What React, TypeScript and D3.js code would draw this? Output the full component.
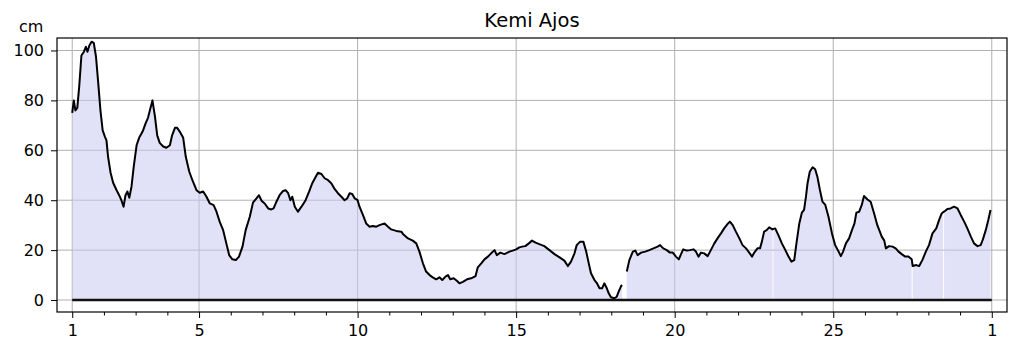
import React, { useRef, useEffect } from "react";
import { select, scaleLinear, line, area, axisBottom, axisLeft } from "d3";

const title = "Kemi Ajos";
const unitLabel = "cm";

// time in days of the month (fractional), water level in cm; null = missing reading
const days = [
  1.0, 1.05, 1.1, 1.16, 1.22, 1.29, 1.37, 1.43, 1.48, 1.54, 1.61, 1.68, 1.75, 1.82, 1.89, 1.96,
  2.03, 2.08, 2.13, 2.21, 2.29, 2.4, 2.48, 2.55, 2.62, 2.68, 2.74, 2.8, 2.87, 2.94,
  3.03, 3.11, 3.22, 3.32, 3.39, 3.45, 3.53, 3.61, 3.68, 3.76, 3.87, 3.97,
  4.08, 4.15, 4.24, 4.31, 4.39, 4.5, 4.58, 4.69, 4.79, 4.92,
  5.02, 5.13, 5.23, 5.34, 5.46, 5.55, 5.65, 5.76, 5.86, 5.95,
  6.05, 6.16, 6.26, 6.37, 6.47, 6.6, 6.7, 6.81, 6.89, 6.97,
  7.07, 7.18, 7.28, 7.35, 7.44, 7.54, 7.65, 7.73, 7.81, 7.88, 7.94,
  8.02, 8.12, 8.23, 8.36, 8.47, 8.57, 8.68, 8.75, 8.86, 8.96,
  9.07, 9.17, 9.28, 9.38, 9.49, 9.59, 9.67, 9.75, 9.83, 9.91,
  10.0, 10.06, 10.17, 10.27, 10.38, 10.48, 10.59, 10.69, 10.85, 10.96,
  11.06, 11.22, 11.38, 11.43, 11.59, 11.74, 11.85, 11.95,
  12.06, 12.16, 12.27, 12.37, 12.48, 12.58, 12.67, 12.77, 12.85, 12.92,
  13.03, 13.13, 13.21, 13.32, 13.45, 13.58, 13.72, 13.79, 13.9,
  14.0, 14.11, 14.21, 14.32, 14.39, 14.5, 14.63, 14.79, 14.89,
  15.0, 15.1, 15.19, 15.29, 15.4, 15.5, 15.61, 15.73, 15.89,
  16.05, 16.21, 16.37, 16.52, 16.63, 16.73, 16.84, 16.91,
  17.02, 17.12, 17.21, 17.29, 17.36, 17.47, 17.54, 17.63, 17.71, 17.78, 17.86, 17.92, 17.99,
  18.1, 18.17, 18.23, 18.31, 18.34, 18.4, 18.49, 18.57, 18.68, 18.76, 18.83, 18.94,
  19.07, 19.2, 19.33, 19.46, 19.54, 19.64, 19.75, 19.85, 19.94,
  20.04, 20.13, 20.2, 20.27, 20.38, 20.48, 20.59, 20.67, 20.75, 20.83, 20.93,
  21.04, 21.14, 21.25, 21.35, 21.46, 21.56, 21.67, 21.74, 21.83, 21.93,
  22.04, 22.14, 22.25, 22.35, 22.44, 22.51, 22.61, 22.69, 22.75, 22.82, 22.9, 22.98,
  23.085, 23.115, 23.17, 23.28, 23.38, 23.49, 23.59, 23.68, 23.77, 23.84, 23.93,
  24.01, 24.08, 24.14, 24.19, 24.26, 24.35, 24.43, 24.5, 24.58, 24.66, 24.75, 24.85, 24.96,
  25.06, 25.17, 25.24, 25.31, 25.4, 25.5, 25.59, 25.67, 25.73, 25.82, 25.9, 25.97,
  26.08, 26.18, 26.29, 26.39, 26.47, 26.53, 26.61, 26.66, 26.76, 26.87, 26.97,
  27.06, 27.16, 27.27, 27.37, 27.475, 27.505, 27.62, 27.71, 27.81, 27.92,
  28.02, 28.13, 28.25, 28.34, 28.42, 28.465, 28.495, 28.6, 28.7, 28.81, 28.92,
  29.02, 29.13, 29.23, 29.34, 29.44, 29.55, 29.65, 29.72, 29.81, 29.89, 29.96,
];

const levels = [
  75, 80, 76, 77, 85.5, 98, 99.5, 101.5, 99.5, 102, 103.5, 103, 97.5, 87, 76, 68,
  65.5, 64, 57.5, 51, 47, 44, 42, 40, 37.4, 42, 43.5, 41, 45.5, 53.5,
  62, 65, 67.5, 71, 73, 76, 80, 73.5, 66, 63, 61.5, 61,
  62, 66, 69, 69, 67.5, 65, 57.5, 51.5, 48, 44,
  43, 43.5, 41.5, 38.7, 38, 35.4, 31.4, 28, 22.7, 18,
  16.3, 16, 17.4, 21.4, 28, 33.4, 39, 40.7, 42, 39.8,
  38.7, 36.7, 36.3, 36.7, 39.4, 42, 43.7, 44, 42.8, 40, 41.4,
  37.4, 35.4, 37.4, 40, 43.4, 46.8, 49.4, 51, 50.5, 48.8,
  48, 46.8, 44.4, 42.8, 41.4, 40, 40.7, 42.8, 42.5, 40.7,
  40, 37.4, 34, 30.7, 29.4, 29.7, 29.4, 30, 30.7, 29.4,
  28.3, 27.7, 27.4, 26.5, 24.7, 23.8, 22.7, 19.4,
  14.7, 11.4, 10, 9.1, 8.3, 9.1, 8, 9.4, 10, 8.3,
  8.7, 7.7, 6.7, 7.3, 8.3, 8.7, 9.6, 13.1, 14.7,
  16.3, 17.4, 18.7, 20, 18, 19, 18.4, 19.4, 19.8,
  20.3, 21.1, 21.4, 21.6, 22.7, 23.8, 23, 22.4, 21.6,
  20, 18.4, 17.1, 15.8, 13.6, 15.4, 18.7, 22,
  23.4, 23.4, 19.4, 14.7, 10.7, 8, 6.9, 4.7, 4.7, 6.7, 4.7, 2.7, 1.1,
  0.7, 1.3, 3.3, 5.6, 6, null, 11.4, 16, 19.4, 19.8, 18, 19,
  19.4, 20, 20.7, 21.4, 22, 20.7, 20, 19, 19,
  17.4, 16.3, 18.4, 20.3, 19.8, 20, 20.3, 19.4, 17.4, 19, 18.7,
  17.6, 20, 22.7, 24.7, 26.7, 28.7, 30.5, 31.4, 30, 27.4,
  24.7, 22, 20.7, 19, 17.4, 19, 20.7, 20.7, 23.4, 27.4, 28, 29.1,
  28.3, 28.5, 28.7, 25.7, 22.7, 20, 17.4, 15.4, 16, 22.7, 30.7,
  35, 36.1, 41.4, 46.8, 51.4, 53.2, 52.4, 49.4, 44.1, 39.4, 38.1, 33.4, 26.7,
  22, 19.4, 17.6, 19.4, 22.7, 24.7, 28, 30.7, 35, 35.4, 38.1, 41.7,
  40.3, 39.4, 34.7, 30, 27.4, 25.4, 23.8, 20.7, 21.6, 21.4, 20.7,
  19.4, 18.4, 17.4, 17.4, 16.3, 13.6, 14, 13.6, 16, 19.4,
  22, 26.7, 28.7, 32.1, 34.7, 35.2, 35.4, 36.5, 36.7, 37.4, 36.7,
  34.1, 31.4, 28.7, 25.4, 22.7, 21.6, 22, 24.3, 28, 32.1, 36.1,
];

// single missing hours: the fill is split there, the line is not
const fillBreaks = [23.1, 27.49, 28.48];

const yTicks = [0, 20, 40, 60, 80, 100];
const xTicks = [1, 5, 10, 15, 20, 25, 30];
const xTickLabels = ["1", "5", "10", "15", "20", "25", "1"];
const minorTicks = [2, 3, 4, 6, 7, 8, 9, 11, 12, 13, 14, 16, 17, 18, 19, 21, 22, 23, 24, 26, 27, 28, 29];

const width = 1019;
const height = 352;
const left = 57, right = 1007, top = 38, bottom = 312;
const font = "DejaVu Sans, sans-serif";

function App() {
  const svgRef = useRef<SVGSVGElement>(null);

  useEffect(() => {
    const svg = select(svgRef.current);
    svg.selectAll("*").remove();

    const x = scaleLinear().domain([0.52, 30.48]).range([left, right]);
    const y = scaleLinear().domain([-4.8, 105]).range([bottom, top]);

    const points = days.map((d, i) => ({ day: d, level: levels[i] }));

    // grid
    const grid = svg.append("g").attr("stroke", "#b0b0b0").attr("stroke-width", 1);
    grid.selectAll(".hy").data(yTicks).join("line")
      .attr("x1", left).attr("x2", right)
      .attr("y1", d => y(d)).attr("y2", d => y(d));
    grid.selectAll(".vx").data(xTicks).join("line")
      .attr("x1", d => x(d)).attr("x2", d => x(d))
      .attr("y1", top).attr("y2", bottom);

    // fill segments
    const segments: { day: number; level: number | null }[][] = [];
    let cur: { day: number; level: number | null }[] = [];
    points.forEach(p => {
      if (p.level === null) {
        if (cur.length) segments.push(cur);
        cur = [];
        return;
      }
      const prev = cur[cur.length - 1];
      if (prev && fillBreaks.some(b => prev.day < b && p.day > b)) {
        segments.push(cur);
        cur = [];
      }
      cur.push(p);
    });
    if (cur.length) segments.push(cur);

    const myArea = area<{ day: number; level: number | null }>()
      .x(d => x(d.day))
      .y0(y(0))
      .y1(d => y(d.level as number));
    svg.append("g").selectAll("path").data(segments).join("path")
      .attr("d", d => myArea(d))
      .attr("fill", "#c8c8f0")
      .attr("fill-opacity", 0.55);

    // zero line
    svg.append("line")
      .attr("x1", x(1)).attr("x2", x(30))
      .attr("y1", y(0)).attr("y2", y(0))
      .attr("stroke", "#111").attr("stroke-width", 2.5);

    const myLine = line<{ day: number; level: number | null }>()
      .defined(d => d.level !== null)
      .x(d => x(d.day))
      .y(d => y(d.level as number));
    svg.append("path")
      .datum(points)
      .attr("d", myLine)
      .attr("fill", "none")
      .attr("stroke", "#000")
      .attr("stroke-width", 2)
      .attr("stroke-linejoin", "round");

    // frame
    svg.append("rect")
      .attr("x", left).attr("y", top)
      .attr("width", right - left).attr("height", bottom - top)
      .attr("fill", "none").attr("stroke", "#000").attr("stroke-width", 1.2);

    // axes
    const yaxis = axisLeft(y).tickValues(yTicks).tickSize(6).tickPadding(7);
    const gy = svg.append("g").attr("transform", `translate(${left},0)`).call(yaxis);
    const xaxis = axisBottom(x).tickValues(xTicks).tickSize(6).tickPadding(7)
      .tickFormat((d, i) => xTickLabels[i]);
    const gx = svg.append("g").attr("transform", `translate(0,${bottom})`).call(xaxis);
    const xminor = axisBottom(x).tickValues(minorTicks).tickSize(3.5).tickFormat(() => "");
    const gm = svg.append("g").attr("transform", `translate(0,${bottom})`).call(xminor);
    [gy, gx, gm].forEach(g => {
      g.select(".domain").remove();
      g.attr("font-family", font).attr("font-size", 16);
      g.selectAll("line").attr("stroke", "#000").attr("stroke-width", 1);
      g.selectAll("text").attr("fill", "#000");
    });

    svg.append("text")
      .attr("x", (left + right) / 2).attr("y", 27)
      .attr("text-anchor", "middle")
      .attr("font-family", font).attr("font-size", 19.5)
      .text(title);

    svg.append("text")
      .attr("x", 19).attr("y", 32)
      .attr("font-family", font).attr("font-size", 16)
      .text(unitLabel);
  }, []);

  return (
    <svg
      ref={svgRef}
      width={width}
      height={height}
      style={{ position: "absolute", left: 0, top: 0, background: "#fff" }}
    />
  );
}

export default App;
